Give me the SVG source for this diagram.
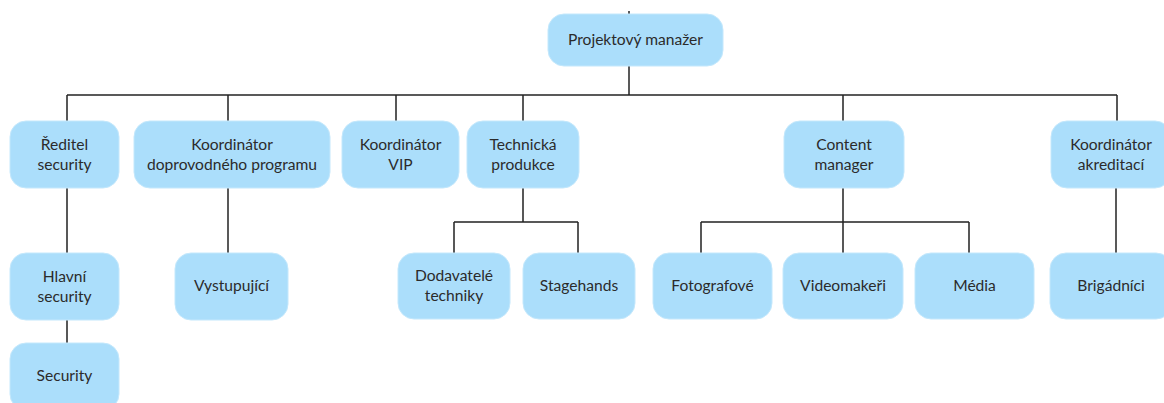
<svg xmlns="http://www.w3.org/2000/svg" width="1164" height="403" viewBox="0 0 1164 403">
  <style>
    .box { fill: #abdefb; stroke: #c4e8fc; stroke-width: 1; }
    .lbl { font-family: Lato, "Noto Sans", sans-serif; font-size: 15.6px; fill: #2b2b2b; text-anchor: middle; }
    .wire { fill: none; stroke: #222; stroke-width: 1.5; }
  </style>
  <rect width="1164" height="403" fill="#ffffff"/>

  <g id="connectors">
    <path class="wire" d="M629 11 V14"/>
    <path class="wire" d="M629 66 V95"/>
    <path class="wire" d="M67 95 H1117"/>
    <path class="wire" d="M67 95 V121 M228 95 V121 M396 95 V121 M523 95 V121 M843 95 V121 M1117 95 V121"/>
    <path class="wire" d="M67 188 V253 M67 320 V343"/>
    <path class="wire" d="M228 188 V253"/>
    <path class="wire" d="M523 188 V222 M454 222 H578 M454 222 V253 M578 222 V253"/>
    <path class="wire" d="M843 188 V253 M701 222 H969 M701 222 V253 M969 222 V253"/>
    <path class="wire" d="M1116 188 V253"/>
  </g>

  <g id="projektovy-manazer">
    <rect class="box" x="548" y="14" width="175" height="52" rx="16"/>
    <text class="lbl" x="635.5" y="45">Projektový manažer</text>
  </g>

  <g id="reditel-security">
    <rect class="box" x="10" y="121" width="109" height="67" rx="16"/>
    <text class="lbl" x="64.5" y="150">Ředitel</text>
    <text class="lbl" x="64.5" y="170">security</text>
  </g>
  <g id="koordinator-programu">
    <rect class="box" x="134" y="121" width="196" height="67" rx="16"/>
    <text class="lbl" x="232" y="150">Koordinátor</text>
    <text class="lbl" x="232" y="170">doprovodného programu</text>
  </g>
  <g id="koordinator-vip">
    <rect class="box" x="342" y="121" width="117" height="67" rx="16"/>
    <text class="lbl" x="400.5" y="150">Koordinátor</text>
    <text class="lbl" x="400.5" y="170">VIP</text>
  </g>
  <g id="technicka-produkce">
    <rect class="box" x="467" y="121" width="112" height="67" rx="16"/>
    <text class="lbl" x="523" y="150">Technická</text>
    <text class="lbl" x="523" y="170">produkce</text>
  </g>
  <g id="content-manager">
    <rect class="box" x="784" y="121" width="120" height="67" rx="16"/>
    <text class="lbl" x="844" y="150">Content</text>
    <text class="lbl" x="844" y="170">manager</text>
  </g>
  <g id="koordinator-akreditaci">
    <rect class="box" x="1051" y="121" width="120" height="67" rx="16"/>
    <text class="lbl" x="1111" y="150">Koordinátor</text>
    <text class="lbl" x="1111" y="170">akreditací</text>
  </g>

  <g id="hlavni-security">
    <rect class="box" x="10" y="253" width="109" height="67" rx="16"/>
    <text class="lbl" x="64.5" y="282">Hlavní</text>
    <text class="lbl" x="64.5" y="302">security</text>
  </g>
  <g id="security">
    <rect class="box" x="10" y="343" width="109" height="67" rx="16"/>
    <text class="lbl" x="64.5" y="381">Security</text>
  </g>
  <g id="vystupujici">
    <rect class="box" x="175" y="253" width="113" height="67" rx="16"/>
    <text class="lbl" x="231.5" y="291">Vystupující</text>
  </g>
  <g id="dodavatele-techniky">
    <rect class="box" x="398" y="253" width="112" height="66" rx="16"/>
    <text class="lbl" x="454" y="281">Dodavatelé</text>
    <text class="lbl" x="454" y="301">techniky</text>
  </g>
  <g id="stagehands">
    <rect class="box" x="523" y="253" width="112" height="66" rx="16"/>
    <text class="lbl" x="579" y="291">Stagehands</text>
  </g>
  <g id="fotografove">
    <rect class="box" x="653" y="253" width="119" height="66" rx="16"/>
    <text class="lbl" x="712.5" y="291">Fotografové</text>
  </g>
  <g id="videomakeri">
    <rect class="box" x="783" y="253" width="120" height="66" rx="16"/>
    <text class="lbl" x="843" y="291">Videomakeři</text>
  </g>
  <g id="media">
    <rect class="box" x="915" y="253" width="119" height="66" rx="16"/>
    <text class="lbl" x="974.5" y="291">Média</text>
  </g>
  <g id="brigadnici">
    <rect class="box" x="1050" y="253" width="122" height="66" rx="16"/>
    <text class="lbl" x="1111" y="291">Brigádníci</text>
  </g>
</svg>
